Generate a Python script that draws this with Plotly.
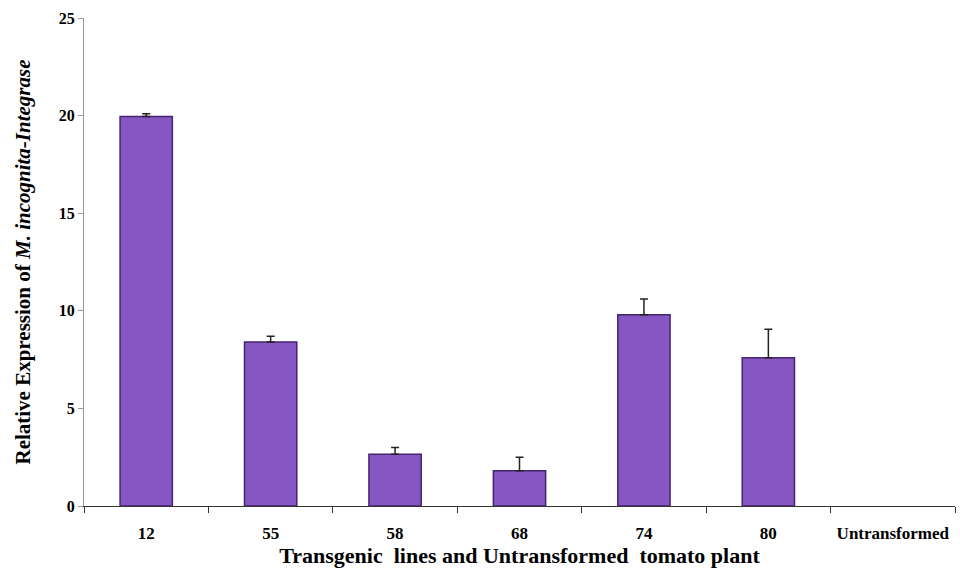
import plotly.graph_objects as go

# Relative expression of the integrase transcript per tomato line
lines = ["12", "55", "58", "68", "74", "80", "Untransformed"]
expression = [19.95, 8.4, 2.65, 1.8, 9.8, 7.6, 0.0]
std_err = [0.15, 0.3, 0.35, 0.7, 0.8, 1.45, 0.0]
y_ticks = [0, 5, 10, 15, 20, 25]

serif = "Liberation Serif, Times New Roman, serif"

# lines with no detectable expression keep their category but get no bar
shown = [i for i, v in enumerate(expression) if v > 0]
bar_x = [lines[i] for i in shown]
bar_y = [expression[i] for i in shown]
bar_err = [std_err[i] for i in shown]

fig = go.Figure(
    go.Bar(
        x=bar_x,
        y=bar_y,
        width=0.42,
        marker=dict(color="#8656c2", line=dict(color="#45236f", width=1.5)),
        error_y=dict(
            type="data",
            symmetric=False,
            array=bar_err,
            arrayminus=[0] * len(bar_err),
            color="#222222",
            thickness=1.5,
            width=4,
        ),
    )
)

fig.update_layout(
    width=960,
    height=575,
    margin=dict(l=84, r=5, t=18, b=69),
    plot_bgcolor="white",
    paper_bgcolor="white",
    showlegend=False,
    font=dict(family=serif, color="black"),
)

fig.update_xaxes(
    type="category",
    categoryorder="array",
    categoryarray=lines,
    range=[-0.5, len(lines) - 0.5],
    showline=True,
    linecolor="#333333",
    linewidth=1,
    ticks="outside",
    tickson="boundaries",
    ticklen=6,
    tickcolor="#333333",
    ticklabelstandoff=12,
    tickfont=dict(family=serif, size=17, weight="bold"),
    title=dict(
        text="Transgenic  lines and Untransformed  tomato plant",
        font=dict(family=serif, size=22, weight="bold"),
        standoff=4,
    ),
    showgrid=False,
)

fig.update_yaxes(
    range=[0, 25],
    tickvals=y_ticks,
    showline=True,
    linecolor="#999999",
    linewidth=1,
    ticks="outside",
    ticklen=5,
    tickcolor="#999999",
    tickfont=dict(family=serif, size=16, weight="bold"),
    title=dict(
        text="Relative Expression of <i>M. incognita-Integrase</i>",
        font=dict(family=serif, size=21, weight="bold"),
        standoff=22,
    ),
    showgrid=False,
    zeroline=False,
)

fig.write_html("out.html")
